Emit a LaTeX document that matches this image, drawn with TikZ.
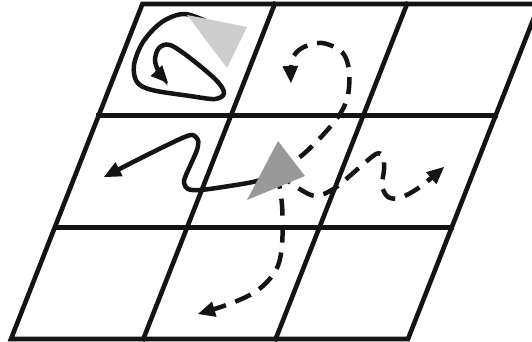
\documentclass[tikz,border=0pt]{standalone}
\usepackage{xcolor}
\usepackage{tikz}
\usetikzlibrary{arrows.meta, calc}
\definecolor{mydark}{RGB}{20,20,20}
\definecolor{agentlight}{RGB}{205,205,205}
\definecolor{agentdark}{RGB}{153,153,153}
\tikzset{
  gridline/.style={line width=4.6pt, color=mydark, line cap=rect},
  walk/.style={line width=4.5pt, color=mydark,
    -{Triangle[length=17pt, width=16pt, line width=0pt]}},
  dashwalk/.style={walk, dash pattern=on 17pt off 10pt},
  agent/.style={draw=none}
}

\begin{document}
\begin{tikzpicture}[x=1pt, y=-1pt]
  \useasboundingbox (0,0) rectangle (532,342);
  \clip (0,0) rectangle (532,342);

  % Slanted 3x3 grid
  \coordinate (SW) at (11,339);
  \coordinate (SE) at (408,339);
  \coordinate (NW) at (142.4,4);
  \coordinate (NE) at (539.3,4);
  \foreach \i in {1,2} {
    \draw[gridline] ($(SW)!\i/3!(NW)$) -- ($(SE)!\i/3!(NE)$);
    \draw[gridline] ($(SW)!\i/3!(SE)$) -- ($(NW)!\i/3!(NE)$);
  }
  \draw[gridline, line join=miter] (SW) -- (SE) -- (NE) -- (NW) -- cycle;

  % Agent centres (start of the walks)
  \coordinate (A1) at (212,24);
  \coordinate (A2) at (277,172);

  % Walk of the light agent (top left cell)
  \draw[walk] plot[smooth, tension=0.55] coordinates {(A1) (185,14) (162,22) (143,42) (134,65)
    (137,82) (152,90) (190,96) (215,99) (224,93) (216,80) (190,58) (170,45)
    (159,48) (155,60) (159,72) (168,83)};

  % Solid walk of the dark agent (to the left)
  \draw[walk] plot[smooth, tension=0.5] coordinates {(A2) (257,181) (223,187) (200,190)
    (188,189) (184,181) (190,166) (197,150) (198,140) (192,135) (180,139)
    (145,156) (104,177)};

  % Dashed walks of the dark agent
  \draw[dashwalk] plot[smooth, tension=0.55] coordinates {(A2) (300,157) (322,136) (340,114)
    (348,95) (349,70) (342,52) (322,43) (302,48) (292,60) (291,83)};
  \draw[dashwalk] plot[smooth, tension=0.5] coordinates {(A2) (295,186) (315,196) (335,188)
    (360,167) (376,154) (383,156) (384,170) (382,186) (388,197) (400,198)
    (420,187) (444,167)};
  \draw[dashwalk] plot[smooth, tension=0.55] coordinates {(A2) (282,205) (282,245) (276,270)
    (258,290) (232,303) (198,314)};

  % Agents
  \fill[agent, color=agentlight] (187,15) -- (247,27) -- (227,68) -- cycle;
  \fill[agent, color=agentdark] (278,141) -- (305,176) -- (247,200) -- cycle;
\end{tikzpicture}
\end{document}
